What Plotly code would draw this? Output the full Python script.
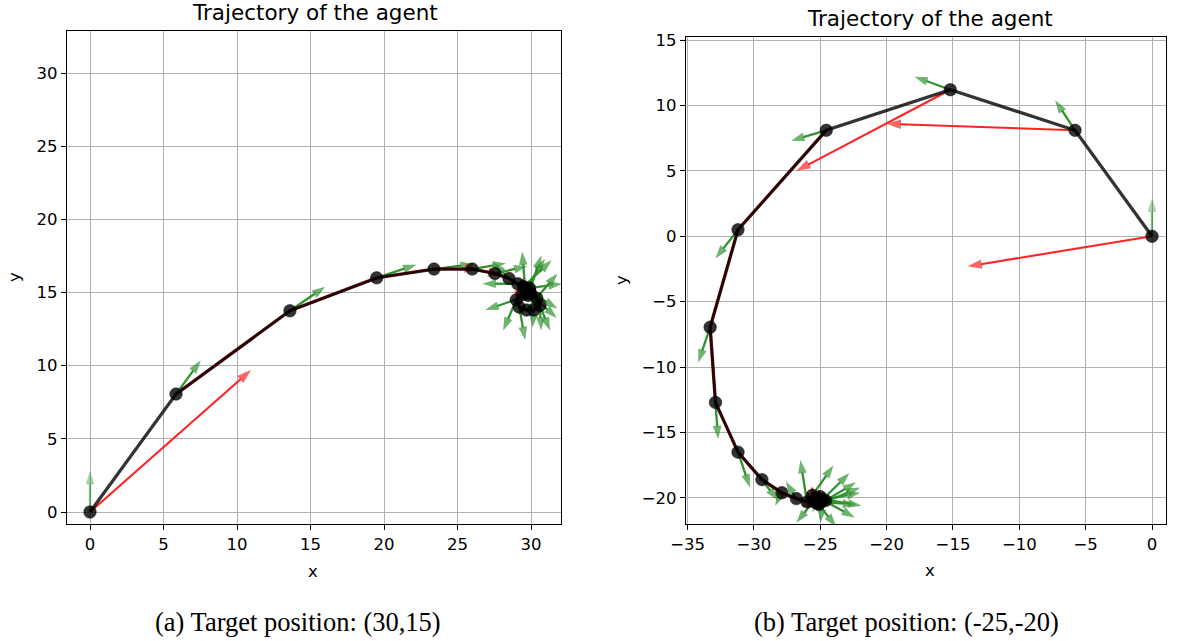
import plotly.graph_objects as go

# ---------------- data: run (a), target (30, 15) ----------------
a_x = [0, 5.85, 13.6, 19.5, 23.4, 26.0, 27.55, 28.5, 29.1, 29.6, 29.9, 29.8, 29.4,
       29.0, 29.2, 29.7, 30.2, 30.6, 30.4, 30.0, 29.7, 29.5, 29.9]
a_y = [0, 8.06, 13.75, 16.0, 16.6, 16.6, 16.3, 15.96, 15.6, 15.3, 15.1, 14.8, 14.85,
       14.5, 14.0, 13.8, 13.8, 14.1, 14.6, 14.9, 15.2, 15.4, 15.3]
# heading vectors (green) at every step
a_hu = [0, 1.68, 2.4, 2.7, 2.7, 2.3, 2.2, -1.1, -2.4, -0.2, 0.8, -2.9, 1.55,
        -0.9, 0.4, 2.1, -0.1, 0.1, 0.9, 1.75, 2.1, 1.9, 2.2]
a_hv = [2.8, 2.3, 1.65, 0.9, 0.35, 0.4, 0.5, 1.1, 0.0, 2.5, 2.45, -1.0, 2.45,
        -2.1, -2.25, 2.5, -1.2, -1.7, -2.2, -1.65, -1.3, 1.8, 0.3]
# action vectors (red)
a_ri = [0, 5, 6, 9, 12]
a_ru = [10.95, 0.45, 0.5, 0.2, 0.3]
a_rv = [9.7, -0.05, -0.1, -0.3, -0.35]
a_red_from = 1  # segments from this index get the red under-stroke

# ---------------- data: run (b), target (-25, -20) ----------------
b_x = [0, -5.8, -15.2, -24.55, -31.2, -33.3, -32.9, -31.2, -29.4, -27.9, -26.8, -26.0,
       -25.6, -25.0, -24.6, -25.1, -25.5, -25.3, -24.9, -25.2, -24.8, -25.4, -25.0, -25.3]
b_y = [0, 8.1, 11.2, 8.1, 0.5, -6.95, -12.7, -16.5, -18.6, -19.6, -20.05, -20.3,
       -19.8, -20.3, -20.2, -20.5, -20.3, -20.0, -20.1, -20.4, -20.2, -20.1, -19.9, -20.3]
b_hu = [0, -1.5, -2.7, -2.65, -1.7, -0.9, 0.2, 0.9, 1.2, -0.5, -0.8, -0.5,
        1.6, 2.2, 2.3, 3.1, 3.5, 3.4, 2.5, 1.4, -0.2, -1.4, -0.6, 3.0]
b_hv = [2.9, 2.3, 1.0, -0.8, -2.2, -2.7, -2.8, -2.7, -1.6, -1.0, 1.3, 3.2,
        2.3, 2.2, 1.4, 1.3, 0.7, -0.6, -1.4, -1.8, -1.7, -1.8, -1.2, -0.2]
b_ri = [0, 1, 2, 12, 13, 11]
b_ru = [-13.9, -14.2, -11.6, 0.0, -0.1, 0.1]
b_rv = [-2.3, 0.5, -6.2, 0.6, 0.9, 0.7]
b_red_from = 3

titles = ["Trajectory of the agent", "Trajectory of the agent"]
captions = ["(a) Target position: (30,15)", "(b) Target position: (-25,-20)"]

W, H = 1177, 641
GREEN = "#0d800d"
RED = "#ff2424"
TICK_FONT = dict(family="DejaVu Sans", size=16.5, color="black")


def arrows(x0s, y0s, us, vs, head):
    xs, ys, sz = [], [], []
    for x0, y0, u, v in zip(x0s, y0s, us, vs):
        xs += [x0, x0 + u, None]
        ys += [y0, y0 + v, None]
        sz += [0, head, 0]
    return xs, ys, sz


def arrow_trace(x0s, y0s, us, vs, color, head, width, xa, ya, opacity=1.0):
    xs, ys, sz = arrows(x0s, y0s, us, vs, head)
    return go.Scatter(
        x=xs, y=ys, mode="lines+markers", xaxis=xa, yaxis=ya, opacity=opacity,
        line=dict(color=color, width=width),
        marker=dict(symbol="arrow", size=sz, color=color, angleref="previous",
                    line=dict(width=0)),
        hoverinfo="skip", showlegend=False,
    )


fig = go.Figure()


def add_run(xs, ys, hu, hv, ri, ru, rv, red_from, xa, ya):
    # heading arrows (first one drawn lighter)
    fig.add_trace(arrow_trace(xs[:1], ys[:1], hu[:1], hv[:1], GREEN, 14, 2.3, xa, ya, 0.5))
    fig.add_trace(arrow_trace(xs[1:], ys[1:], hu[1:], hv[1:], GREEN, 14, 2.3, xa, ya, 0.85))
    # action arrows
    fig.add_trace(arrow_trace([xs[i] for i in ri], [ys[i] for i in ri], ru, rv,
                              RED, 15, 2.1, xa, ya))
    # trajectory: red under-stroke, translucent black on top
    fig.add_trace(go.Scatter(x=xs[red_from:], y=ys[red_from:], mode="lines",
                             line=dict(color="red", width=2.5), xaxis=xa, yaxis=ya,
                             hoverinfo="skip", showlegend=False))
    fig.add_trace(go.Scatter(x=xs, y=ys, mode="lines",
                             line=dict(color="rgba(0,0,0,0.8)", width=3.3),
                             xaxis=xa, yaxis=ya, hoverinfo="skip", showlegend=False))
    fig.add_trace(go.Scatter(x=xs, y=ys, mode="markers",
                             marker=dict(size=12.5, color="rgba(0,0,0,0.8)",
                                         line=dict(color="rgba(0,0,0,0.5)", width=1)),
                             xaxis=xa, yaxis=ya, hoverinfo="skip", showlegend=False))


add_run(a_x, a_y, a_hu, a_hv, a_ri, a_ru, a_rv, a_red_from, "x", "y")
add_run(b_x, b_y, b_hu, b_hv, b_ri, b_ru, b_rv, b_red_from, "x2", "y2")


def axis(domain, rng, dtick, anchor):
    return dict(domain=domain, range=rng, dtick=dtick, tick0=0, anchor=anchor,
                automargin=False,
                showline=True, linecolor="black", linewidth=1.3, mirror=True,
                ticks="outside", ticklen=5, tickwidth=1.3, tickcolor="black",
                showgrid=True, gridcolor="#b0b0b0", gridwidth=1.1,
                zeroline=False, tickfont=TICK_FONT)


def px_x(p):
    return p / W


def px_y(p):
    return 1 - p / H


fig.update_layout(
    width=W, height=H, margin=dict(l=0, r=0, t=0, b=0, autoexpand=False),
    paper_bgcolor="white", plot_bgcolor="white",
    xaxis=axis([px_x(67), px_x(561)], [-1.565, 32.04], 5, "y"),
    yaxis=axis([px_y(524), px_y(31)], [-0.82, 32.87], 5, "x"),
    xaxis2=axis([px_x(686), px_x(1166)], [-35.12, 1.055], 5, "y2"),
    yaxis2=axis([px_y(524), px_y(37)], [-21.99, 15.23], 5, "x2"),
)

ann = []
for cx, cy, t in [(315, 13, titles[0]), (930, 18, titles[1])]:
    ann.append(dict(x=px_x(cx), y=px_y(cy), text=t, showarrow=False,
                    font=dict(family="DejaVu Sans", size=21.5, color="black")))
for cx, cy in [(313, 571), (930, 570)]:
    ann.append(dict(x=px_x(cx), y=px_y(cy), text="x", showarrow=False, font=TICK_FONT))
for cx, cy in [(15, 277), (621, 280)]:
    ann.append(dict(x=px_x(cx), y=px_y(cy), text="y", showarrow=False, textangle=-90,
                    font=TICK_FONT))
for cx, cy, t in [(298, 622, captions[0]), (906, 622, captions[1])]:
    ann.append(dict(x=px_x(cx), y=px_y(cy), text=t, showarrow=False,
                    font=dict(family="Liberation Serif", size=26.5, color="black")))
for a in ann:
    a.update(xref="paper", yref="paper", xanchor="center", yanchor="middle")
fig.update_layout(annotations=ann)

fig.write_html("out.html")
